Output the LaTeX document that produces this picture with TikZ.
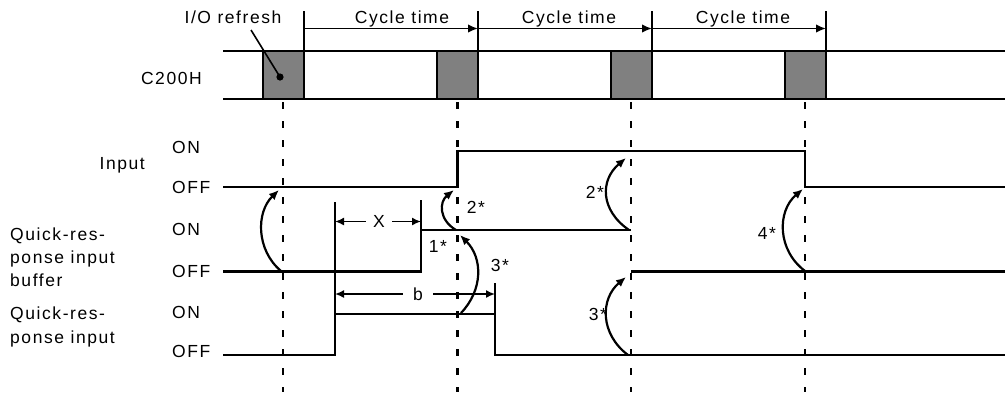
\documentclass[tikz,border=0pt]{standalone}
\usepackage{fontspec}
\setmainfont{Liberation Sans}[LetterSpace=9]
\usetikzlibrary{arrows.meta}
\definecolor{refgray}{RGB}{128,128,128}
\begin{document}
\begin{tikzpicture}[x=1pt,y=-1pt,
  lbl/.style={font=\fontsize{17.5}{22}\selectfont, inner sep=0pt},
  sig/.style={line width=2.5pt},
  tick/.style={line width=1.6pt},
  carr/.style={-{Latex[length=10pt,width=8.5pt]}, line width=1.8pt},
  darr/.style={{Latex[length=9pt,width=8pt]}-{Latex[length=9pt,width=8pt]}, line width=1.6pt},
  curv/.style={-{Latex[length=10pt,width=8.5pt]}, line width=2.2pt},
  guide/.style={line width=2.5pt, dash pattern=on 7pt off 12pt},
  refresh/.style={fill=refgray, draw=black, line width=2.5pt}
]
\useasboundingbox (0,0) rectangle (1005,392);

% ---------- C200H row ----------
\draw[sig] (223,51) -- (1005,51);
\draw[sig] (223,99) -- (1005,99);
\foreach \x/\n in {263/1,437/2,611/3,785/4}{
  \draw[refresh] (\x,51) rectangle ++(41,48);
}
\foreach \x in {304,478,652,826}{
  \draw[tick] (\x,11) -- (\x,51);
}
\node[lbl, anchor=base east] (c200h) at (202,84) {C200H};

% cycle time arrows
\coordinate (c0) at (304,28.5);
\coordinate (c1) at (478,28.5);
\coordinate (c2) at (652,28.5);
\coordinate (c3) at (826,28.5);
\draw[carr] (c0) -- (c1);
\draw[carr] (c1) -- (c2);
\draw[carr] (c2) -- (c3);
\node[lbl, anchor=base] (ct1) at (402,23) {Cycle time};
\node[lbl, anchor=base] (ct2) at (569,23) {Cycle time};
\node[lbl, anchor=base] (ct3) at (743,23) {Cycle time};

% I/O refresh label
\node[lbl, anchor=base] (iorl) at (233,23) {I/O refresh};
\coordinate (iodot) at (280,77);
\draw[tick] (251,30) -- (iodot);
\fill (iodot) circle (3.6pt);

% ---------- dashed guides ----------
\foreach \x in {283,457.5,631,805}{
  \draw[guide] (\x,102) -- (\x,392);
}

% ---------- labels ----------
\node[lbl, anchor=base east] (inlbl) at (145,169) {Input};
\node[lbl, anchor=base west] (on1) at (172,153) {ON};
\node[lbl, anchor=base west] (off1) at (172,193.5) {OFF};
\node[lbl, anchor=base west] (on2) at (172,235.5) {ON};
\node[lbl, anchor=base west] (off2) at (172,277.5) {OFF};
\node[lbl, anchor=base west] (on3) at (172,318.5) {ON};
\node[lbl, anchor=base west] (off3) at (172,357) {OFF};

\node[lbl, anchor=base west] (qb1) at (10,240.5) {Quick-res-};
\node[lbl, anchor=base west] (qb2) at (10,263.5) {ponse input};
\node[lbl, anchor=base west] (qb3) at (10,286.5) {buffer};
\node[lbl, anchor=base west] (qi1) at (10,319.5) {Quick-res-};
\node[lbl, anchor=base west] (qi2) at (10,343) {ponse input};

% ---------- signals ----------
% Input
\draw[sig] (223,187) -- (457.5,187) -- (457.5,151) -- (805,151) -- (805,187) -- (1005,187);
% Quick-response input buffer
\draw[sig] (223,271.5) -- (421,271.5) -- (421,200);
\draw[sig] (421,230) -- (631,230);
\draw[sig] (631,271.5) -- (1005,271.5);
% Quick-response input
\draw[sig] (223,355) -- (335,355) -- (335,202);
\draw[sig] (335,314) -- (495,314);
\draw[sig] (495,283) -- (495,355) -- (1005,355);

% ---------- X and b dimensions ----------
\node[lbl, inner xsep=7pt] (xl) at (379,221.5) {X};
\coordinate (xa) at (335,221.5);
\coordinate (xb) at (421,221.5);
\draw[-{Latex[length=9pt,width=8pt]}, line width=1.6pt] (xl.west) -- (xa);
\draw[-{Latex[length=9pt,width=8pt]}, line width=1.6pt] (xl.east) -- (xb);

\node[lbl, inner xsep=10pt] (bl) at (418,294) {b};
\coordinate (ba) at (335,294);
\coordinate (bb) at (495,294);
\draw[-{Latex[length=9pt,width=8pt]}, line width=1.6pt] (bl.west) -- (ba);
\draw[-{Latex[length=9pt,width=8pt]}, line width=1.6pt] (bl.east) -- (bb);

% ---------- curved arrows ----------
\coordinate (a1s) at (281,271);
\coordinate (a1e) at (279,190);
\draw[curv] (a1s) .. controls (256,250) and (256,212) .. (a1e);

\coordinate (a2s) at (456,230);
\coordinate (a2e) at (454,190);
\draw[curv] (a2s) .. controls (439,220) and (439,202) .. (a2e);

\coordinate (a3s) at (461,313);
\coordinate (a3e) at (460,235);
\draw[curv] (a3s) .. controls (483,290) and (483,258) .. (a3e);

\coordinate (a4s) at (629,230);
\coordinate (a4e) at (626,158);
\draw[curv] (a4s) .. controls (600,210) and (600,180) .. (a4e);

\coordinate (a5s) at (805,271);
\coordinate (a5e) at (803,189);
\draw[curv] (a5s) .. controls (777,250) and (777,211) .. (a5e);

\coordinate (a6s) at (628,355);
\coordinate (a6e) at (626,277);
\draw[curv] (a6s) .. controls (600,334) and (600,299) .. (a6e);

% star labels
\node[lbl] (s1) at (438,246.5) {1*};
\node[lbl] (s2a) at (476,207.5) {2*};
\node[lbl] (s3a) at (500,265) {3*};
\node[lbl] (s2b) at (595,192.5) {2*};
\node[lbl] (s4) at (767,233.5) {4*};
\node[lbl] (s3b) at (598,314.5) {3*};
\end{tikzpicture}
\end{document}
